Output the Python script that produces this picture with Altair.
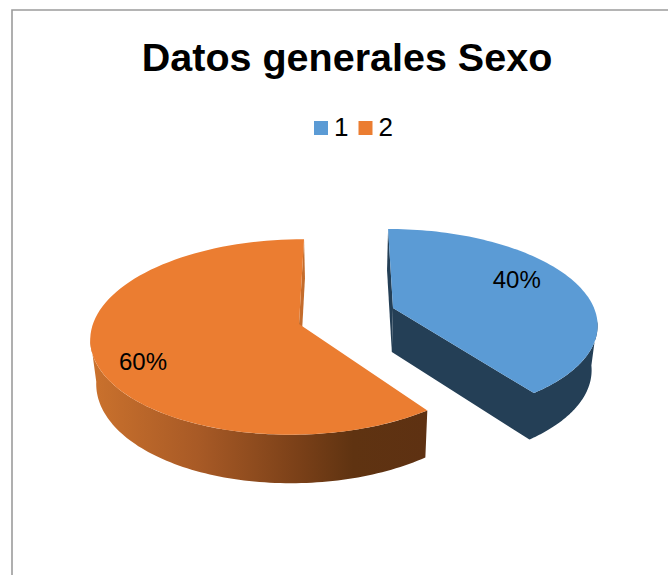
import math
import altair as alt

# Pie values and labels
categories = ["1", "2"]
shares = [40, 60]
share_labels = ["40%", "60%"]
colors = ["#5B9BD5", "#EB7D31"]

TOP_PAD = 90
FONT = "Liberation Sans"

# Perspective of each exploded slice: the disc position (u, w) is projected on the page.
# wall_limit is the angle at which the rim turns away from the viewer.
SLICE_VIEW = {
    "1": dict(cx=393, cy=308, A=201, B=91.6, p=0.159, q=0.0, C=5.7, depth=44, depth_power=0.4,
              label=(0.655, -0.31), wall_limit=98),
    "2": dict(cx=299, cy=324, A=204, B=96.0, p=0.1327, q=-0.01, C=-5.7, depth=43, depth_power=0.85,
              label=(-0.71, 0.38), wall_limit=262),
}
VANISH_X = 344
SHRINK = 0.9764


def project(view, u, w, lower=False):
    s = 1 / (1 - view["p"] * w - view["q"] * u)
    x = view["cx"] + (view["A"] * u + view["C"] * w) * s
    y = view["cy"] + view["B"] * w * s
    if lower:
        x = VANISH_X + (x - VANISH_X) * SHRINK
        y += view["depth"] * s ** view["depth_power"]
    return [round(x, 2), round(y, 2)]


def rim(view, start, end, lower=False, steps=90):
    points = []
    for i in range(steps + 1):
        t = math.radians(start + (end - start) * i / steps)
        points.append(project(view, math.sin(t), -math.cos(t), lower))
    return points


def feature(points, serie):
    ring = points + [points[0]]
    return {"type": "Feature", "properties": {"serie": serie},
            "geometry": {"type": "Polygon", "coordinates": [ring]}}


# Slices run clockwise from twelve o'clock
angles = {}
top_faces = {}
start = 0.0
for name, share in zip(categories, shares):
    end = start + share * 3.6
    angles[name] = (start, end)
    top_faces[name] = feature([project(SLICE_VIEW[name], 0, 0)] + rim(SLICE_VIEW[name], start, end), name)
    start = end

# Slice 1: outer wall and the cut along its lower edge form one dark face
view_1 = SLICE_VIEW["1"]
edge_1 = angles["1"][1]
blue_face = feature(
    rim(view_1, view_1["wall_limit"], edge_1)
    + [project(view_1, 0, 0), project(view_1, 0, 0, True)]
    + rim(view_1, edge_1, view_1["wall_limit"], True),
    "1",
)
blue_back_cut = feature(
    [project(view_1, 0, -1), project(view_1, 0, 0), project(view_1, 0, 0, True), project(view_1, 0, -1, True)],
    "1",
)

# Slice 2: shaded outer wall and the cut at twelve o'clock
view_2 = SLICE_VIEW["2"]
edge_2 = angles["2"][0]
orange_face = feature(
    rim(view_2, edge_2, view_2["wall_limit"]) + rim(view_2, view_2["wall_limit"], edge_2, True),
    "2",
)
orange_back_cut = feature(
    [project(view_2, 0, -1), project(view_2, 0, 0), project(view_2, 0, 0, True), project(view_2, 0, -1, True)],
    "2",
)

wall_gradient = alt.Gradient(
    gradient="linear", x1=0, x2=1, y1=0, y2=0,
    stops=[
        alt.GradientStop(offset=0.0, color="#CB722D"),
        alt.GradientStop(offset=0.32, color="#A85A26"),
        alt.GradientStop(offset=0.62, color="#7A4018"),
        alt.GradientStop(offset=0.78, color="#5F3311"),
        alt.GradientStop(offset=1.0, color="#5E3112"),
    ],
)


def place(layer):
    # Page pixels map straight onto the plot area
    return layer.project(type="identity", scale=1, translate=[0, -TOP_PAD])


def shape(features, **style):
    return place(alt.Chart(alt.Data(values=features)).mark_geoshape(clip=False, **style))


frame = shape(
    [{"type": "Feature", "properties": {},
      "geometry": {"type": "LineString", "coordinates": [[12, 575], [12, 10], [668, 10]]}}],
    filled=False, stroke="#9C9C9C", strokeWidth=1.6,
)

blue_side = shape([blue_face, blue_back_cut], fill="#243F56", strokeWidth=0)
orange_cut = shape([orange_back_cut], fill="#C46C2C", strokeWidth=0)
orange_wall = shape([orange_face], fill=wall_gradient, strokeWidth=0)

faces = shape([top_faces["1"], top_faces["2"]], strokeWidth=0).encode(
    color=alt.Color(
        "properties.serie:N",
        scale=alt.Scale(domain=categories, range=colors),
        legend=alt.Legend(
            title=None, orient="none", direction="horizontal",
            legendX=308, legendY=115 - TOP_PAD,
            symbolType="square", symbolSize=196, symbolStrokeWidth=0, symbolOffset=0,
            labelFont=FONT, labelFontSize=26, labelColor="#000000", labelOffset=0,
            columnPadding=3.5, padding=0,
        ),
    )
)

label_rows = []
for name, text in zip(categories, share_labels):
    view = SLICE_VIEW[name]
    x, y = project(view, *view["label"])
    label_rows.append({"lon": x, "lat": y, "text": text})

labels = place(
    alt.Chart(alt.Data(values=label_rows))
    .mark_text(font=FONT, fontSize=24, color="#000000", align="center", baseline="middle")
    .encode(longitude="lon:Q", latitude="lat:Q", text="text:N")
)

chart = (
    alt.layer(frame, blue_side, orange_cut, orange_wall, faces, labels)
    .properties(
        width=668,
        height=575 - TOP_PAD,
        padding={"left": 0, "top": TOP_PAD, "right": 0, "bottom": 0},
        autosize=alt.AutoSizeParams(type="none"),
        title=alt.TitleParams(
            "Datos generales Sexo", font=FONT, fontSize=39.5, fontWeight="bold",
            color="#000000", anchor="middle", dx=13, offset=-73,
        ),
    )
    .configure_view(stroke=None)
)

chart.save("out.html", embed_options={"renderer": "svg", "actions": False})
